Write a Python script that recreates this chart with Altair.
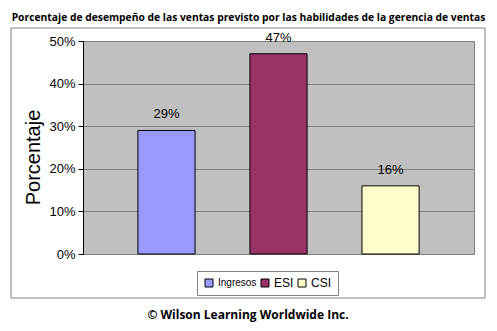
import altair as alt
import pandas as pd

categories = ["Ingresos", "ESI", "CSI"]
values = [0.29, 0.47, 0.16]
colors = ["#9999FF", "#993366", "#FFFFCC"]
y_ticks = [0, 0.1, 0.2, 0.3, 0.4, 0.5]
title_text = "Porcentaje de desempeño de las ventas previsto por las habilidades de la gerencia de ventas"
footer_text = ["© Wilson Learning Worldwide Inc."]
y_title = "Porcentaje"

df = pd.DataFrame({"serie": categories, "valor": values})
footer_df = pd.DataFrame({"t": footer_text})

x_enc = alt.X("serie:N", sort=categories, axis=None,
              scale=alt.Scale(paddingInner=0.49, paddingOuter=0.49))
y_enc = alt.Y("valor:Q", scale=alt.Scale(domain=[0, 0.5]),
              axis=alt.Axis(values=y_ticks, format=".0%", title=y_title,
                            labelFont="Arial", labelFontSize=13, labelColor="black",
                            labelPadding=3, tickSize=5, tickColor="black",
                            domainColor="black", gridColor="#808080",
                            titleFont="Arial", titleFontSize=20, titleFontWeight="normal",
                            titleColor="black", titleX=-50, titleY=116,
                            titleAngle=-90, titleAlign="center", titleBaseline="middle"))

frame = alt.Chart(footer_df).mark_rect(fill="transparent", stroke="#808080", strokeWidth=1).encode(
    x=alt.value(-72), x2=alt.value(402), y=alt.value(-13), y2=alt.value(257))

bars = alt.Chart(df).mark_bar(stroke="black", strokeWidth=1).encode(
    x=x_enc, y=y_enc,
    color=alt.Color("serie:N", sort=categories,
                    scale=alt.Scale(domain=categories, range=colors),
                    legend=alt.Legend(title=None, orient="none", legendX=114, legendY=230,
                                      direction="horizontal", symbolType="square",
                                      symbolSize=64, symbolStrokeColor="black",
                                      symbolStrokeWidth=1, labelFont="Arial",
                                      labelFontSize=alt.ExprRef("datum.label == 'Ingresos' ? 10 : 12"),
                                      labelColor="black",
                                      strokeColor="#808080", fillColor="white",
                                      padding=6, columnPadding=2, labelOffset=3)))

labels = alt.Chart(df).mark_text(baseline="bottom", dy=-9, font="Arial", fontSize=13,
                                 color="black").encode(
    x=x_enc, y=y_enc, text=alt.Text("valor:Q", format=".0%"))

footer = alt.Chart(footer_df).mark_text(font="Open Sans", fontWeight="bold", fontSize=12,
                                        color="black", align="center", baseline="alphabetic").encode(
    x=alt.value(165), y=alt.value(278), text="t:N")

chart = alt.layer(frame, bars, labels, footer).properties(
    width=391, height=213,
    title=alt.TitleParams(text=title_text, font="Open Sans", fontWeight="bold",
                          fontSize=10.3, color="black", anchor="middle", dx=-30, offset=4),
    autosize=alt.AutoSizeParams(type="none"),
    padding={"left": 83, "top": 41, "right": 23, "bottom": 77},
    background="white",
).configure_view(fill="#C0C0C0", stroke="#808080")

chart.save("out.html", embed_options={"renderer": "svg", "actions": False})
